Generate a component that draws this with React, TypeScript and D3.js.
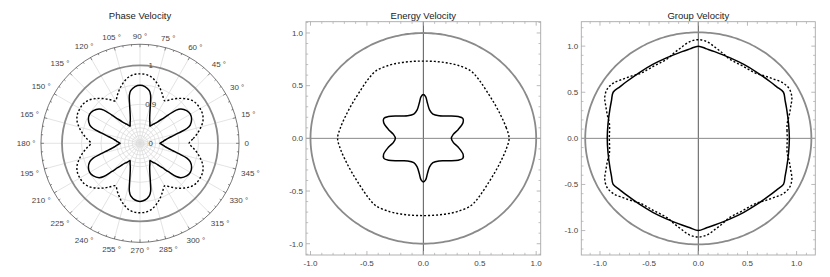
import React from 'react';
import * as d3 from 'd3';

// ---------------- Data ----------------
// Panel 1: Phase Velocity (polar). Quadrant samples 0..90 deg, mirrored to the full circle.
const phaseSolidAngles = [0, 2.5, 5, 7.5, 10, 12.5, 15, 17.5, 20, 25, 30, 35, 40, 42.5, 45, 47.5, 50, 52.5, 55, 57.5, 60, 62.5, 65, 67.5, 70, 72.5, 75, 77.5, 80, 85, 90];
const phaseSolidValues = [0.851, 0.855, 0.860, 0.865, 0.873, 0.885, 0.903, 0.926, 0.937, 0.946, 0.949, 0.946, 0.937, 0.926, 0.903, 0.885, 0.873, 0.865, 0.860, 0.855, 0.851, 0.855, 0.860, 0.865, 0.873, 0.885, 0.903, 0.926, 0.937, 0.946, 0.949];
const phaseDashedAngles = [0, 5, 10, 15, 20, 25, 30, 35, 40, 45, 50, 55, 60, 65, 70, 75, 80, 85, 90];
const phaseDashedValues = [0.926, 0.937, 0.950, 0.962, 0.972, 0.977, 0.978, 0.977, 0.972, 0.962, 0.950, 0.937, 0.926, 0.937, 0.950, 0.962, 0.972, 0.977, 0.978];
const phaseRefValue = 1.0;
const phaseRadialDomain = [0.8, 1.0];
const phaseOuterValue = 1.054;
const phaseRadialTicks = [0.8, 0.9, 1.0];
const phaseRadialLabels = ['0', '0.9', '1'];
const phaseGridRings = [0.81, 0.82, 0.83, 0.84, 0.85, 0.86, 0.9, 0.95];
const phaseAngleTicks = [0, 15, 30, 45, 60, 75, 90, 105, 120, 135, 150, 165, 180, 195, 210, 225, 240, 255, 270, 285, 300, 315, 330, 345];
const phaseAngleLabels = ['0', '15 °', '30 °', '45 °', '60 °', '75 °', '90 °', '105 °', '120 °', '135 °', '150 °', '165 °', '180 °', '195 °', '210 °', '225 °', '240 °', '255 °', '270 °', '285 °', '300 °', '315 °', '330 °', '345 °'];

// Panel 2: Energy Velocity. Quadrant points (x, y), mirrored about both axes.
const energySolidX = [0.248, 0.265, 0.31, 0.352, 0.35, 0.31, 0.23, 0.14, 0.085, 0.055, 0.036, 0.02, 0];
const energySolidY = [0, 0.038, 0.085, 0.15, 0.19, 0.207, 0.213, 0.214, 0.23, 0.27, 0.335, 0.395, 0.415];
const energyDashedX = [0.76, 0.735, 0.69, 0.63, 0.56, 0.49, 0.42, 0.3, 0.2, 0.1, 0];
const energyDashedY = [0, 0.1, 0.21, 0.33, 0.45, 0.56, 0.64, 0.695, 0.718, 0.73, 0.733];
const energyRefRadius = 1.0;
const energyXDomain = [-1.04, 1.04];
const energyYDomain = [-1.107, 1.107];

// Panel 3: Group Velocity. Quadrant samples in polar form (deg, r).
const groupSolidAngles = [0, 10, 20, 25, 30, 35, 40, 50, 60, 70, 80, 85, 90];
const groupSolidValues = [0.926, 0.932, 0.955, 0.974, 1.0, 0.974, 0.955, 0.932, 0.926, 0.932, 0.955, 0.974, 1.0];
const groupDashedAngles = [0, 5, 10, 15, 20, 25, 30, 35, 40, 45, 50, 55, 60, 65, 70, 75, 80, 85, 90];
const groupDashedValues = [0.905, 0.906, 0.918, 0.957, 1.0, 1.05, 1.07, 1.05, 1.0, 0.957, 0.918, 0.906, 0.905, 0.906, 0.918, 0.957, 1.0, 1.05, 1.07];
const groupRefRadius = 1.15;
const groupXDomain = [-1.19, 1.19];
const groupYDomain = [-1.265, 1.265];

const cartMajorTicks = [-1, -0.5, 0, 0.5, 1];
const cartMajorLabels = ['-1.0', '-0.5', '0.0', '0.5', '1.0'];

// ---------------- Helpers ----------------
type PP = { a: number; r: number };
const FONT = "'Liberation Sans', Arial, Helvetica, sans-serif";

function mirrorPolar(anglesDeg: number[], values: number[]): PP[] {
  const m = new Map<string, PP>();
  anglesDeg.forEach((deg, i) => {
    const r = values[i];
    [deg, 180 - deg, 180 + deg, 360 - deg].forEach((d) => {
      const dd = ((d % 360) + 360) % 360;
      m.set(dd.toFixed(3), { a: dd, r });
    });
  });
  return Array.from(m.values()).sort((p, q) => p.a - q.a);
}

function mirrorCart(xs: number[], ys: number[]): PP[] {
  const angles = xs.map((x, i) => (Math.atan2(ys[i], x) * 180) / Math.PI);
  const rs = xs.map((x, i) => Math.hypot(x, ys[i]));
  return mirrorPolar(angles, rs);
}

function minorTicks(domain: number[]): number[] {
  const out: number[] = [];
  for (let k = Math.ceil(domain[0] * 10 - 1e-9); k <= Math.floor(domain[1] * 10 + 1e-9); k++) {
    if (k % 5 !== 0) out.push(k / 10);
  }
  return out;
}

// ---------------- Panels ----------------
function PhasePanel() {
  const cx = 140, cy = 143.3;
  const r = d3.scaleLinear().domain(phaseRadialDomain).range([0, 78]);
  const R = r(phaseOuterValue);
  const line = d3
    .lineRadial<PP>()
    .angle((d) => Math.PI / 2 - (d.a * Math.PI) / 180)
    .radius((d) => r(d.r))
    .curve(d3.curveCatmullRomClosed.alpha(0.5));
  const solid = mirrorPolar(phaseSolidAngles, phaseSolidValues);
  const dashed = mirrorPolar(phaseDashedAngles, phaseDashedValues);
  const outerTicks = d3.range(0, 360, 5);
  const grid = '#dcdcdc';
  return (
    <g>
      <text x={cx} y={19} textAnchor="middle" fontSize={9.5} fill="#222" fontFamily={FONT}>Phase Velocity</text>
      <g transform={`translate(${cx},${cy})`}>
        {phaseAngleTicks.map((deg) => {
          const t = (deg * Math.PI) / 180;
          return <line key={'s' + deg} x1={0} y1={0} x2={R * Math.cos(t)} y2={-R * Math.sin(t)} stroke={grid} strokeWidth={0.8} />;
        })}
        {phaseGridRings.map((v) => (
          <circle key={'g' + v} r={r(v)} fill="none" stroke={grid} strokeWidth={0.8} />
        ))}
        <circle r={R} fill="none" stroke="#555" strokeWidth={0.8} />
        {outerTicks.map((deg) => {
          const t = (deg * Math.PI) / 180;
          const len = deg % 15 === 0 ? 3 : 1.8;
          return (
            <line key={'t' + deg} x1={R * Math.cos(t)} y1={-R * Math.sin(t)} x2={(R - len) * Math.cos(t)} y2={-(R - len) * Math.sin(t)} stroke="#555" strokeWidth={0.7} />
          );
        })}
        <circle r={r(phaseRefValue)} fill="none" stroke="#8a8a8a" strokeWidth={1.8} />
        <path d={line(dashed) || ''} fill="none" stroke="#000" strokeWidth={1.4} strokeDasharray="2,2" />
        <path d={line(solid) || ''} fill="none" stroke="#000" strokeWidth={1.5} />
        {phaseRadialTicks.map((v, i) => (
          <text key={'rl' + i} x={10.7} y={-r(v)} dy="0.35em" textAnchor="middle" fontSize={8} fill="#444" fontFamily={FONT}>{phaseRadialLabels[i]}</text>
        ))}
        {phaseAngleTicks.map((deg, i) => {
          const t = (deg * Math.PI) / 180;
          const lab = phaseAngleLabels[i];
          const digits = lab.replace(/[^0-9]/g, '').length;
          const w = digits * 4.45 + (lab.includes('°') ? 5.4 : 0);
          const h = 5.8;
          const c = Math.cos(t), s = Math.sin(t);
          const r0 = 104.5 + Math.abs(c) * w / 2 + Math.abs(s) * h / 2;
          return (
            <text key={'al' + deg} x={r0 * c} y={-r0 * s} dy="0.35em" textAnchor="middle" fontSize={8} fill="#444" fontFamily={FONT}>{lab}</text>
          );
        })}
      </g>
    </g>
  );
}

function CartPanel(props: {
  title: string;
  xDomain: number[];
  yDomain: number[];
  xRange: number[];
  yRange: number[];
  refRadius: number;
  solid: PP[];
  dashed: PP[];
}) {
  const { title, xDomain, yDomain, xRange, yRange, refRadius, solid, dashed } = props;
  const x = d3.scaleLinear().domain(xDomain).range(xRange);
  const y = d3.scaleLinear().domain(yDomain).range(yRange);
  const line = d3
    .line<PP>()
    .x((d) => x(d.r * Math.cos((d.a * Math.PI) / 180)))
    .y((d) => y(d.r * Math.sin((d.a * Math.PI) / 180)))
    .curve(d3.curveCatmullRomClosed.alpha(0.5));
  const circ = d3.range(0, 361, 2).map((a) => ({ a, r: refRadius }));
  const x0 = xRange[0], x1 = xRange[1], yTop = yRange[1], yBot = yRange[0];
  const frame = '#a8a8a8';
  const xMinor = minorTicks(xDomain);
  const yMinor = minorTicks(yDomain);
  const major = 4, minor = 2.2;
  return (
    <g>
      <text x={x(0)} y={19} textAnchor="middle" fontSize={9.5} fill="#222" fontFamily={FONT}>{title}</text>
      <line x1={x(0)} x2={x(0)} y1={yTop} y2={yBot} stroke="#444" strokeWidth={0.9} />
      <line x1={x0} x2={x1} y1={y(0)} y2={y(0)} stroke="#888" strokeWidth={1} />
      <path d={line(circ) || ''} fill="none" stroke="#8a8a8a" strokeWidth={1.8} />
      <path d={line(dashed) || ''} fill="none" stroke="#000" strokeWidth={1.4} strokeDasharray="2,2" />
      <path d={line(solid) || ''} fill="none" stroke="#000" strokeWidth={1.5} />
      <rect x={x0} y={yTop} width={x1 - x0} height={yBot - yTop} fill="none" stroke={frame} strokeWidth={0.9} />
      {cartMajorTicks.map((v, i) => (
        <g key={'mx' + i}>
          <line x1={x(v)} x2={x(v)} y1={yBot} y2={yBot - major} stroke={frame} strokeWidth={0.8} />
          <line x1={x(v)} x2={x(v)} y1={yTop} y2={yTop + major} stroke={frame} strokeWidth={0.8} />
          <line x1={x0} x2={x0 + major} y1={y(v)} y2={y(v)} stroke={frame} strokeWidth={0.8} />
          <line x1={x1} x2={x1 - major} y1={y(v)} y2={y(v)} stroke={frame} strokeWidth={0.8} />
          <text x={x(v)} y={265.5} textAnchor="middle" fontSize={8} fill="#444" fontFamily={FONT}>{cartMajorLabels[i]}</text>
          <text x={x0 - 3} y={y(v)} dy="0.35em" textAnchor="end" fontSize={8} fill="#444" fontFamily={FONT}>{cartMajorLabels[i]}</text>
        </g>
      ))}
      {xMinor.map((v) => (
        <g key={'nx' + v}>
          <line x1={x(v)} x2={x(v)} y1={yBot} y2={yBot - minor} stroke={frame} strokeWidth={0.7} />
          <line x1={x(v)} x2={x(v)} y1={yTop} y2={yTop + minor} stroke={frame} strokeWidth={0.7} />
        </g>
      ))}
      {yMinor.map((v) => (
        <g key={'ny' + v}>
          <line x1={x0} x2={x0 + minor} y1={y(v)} y2={y(v)} stroke={frame} strokeWidth={0.7} />
          <line x1={x1} x2={x1 - minor} y1={y(v)} y2={y(v)} stroke={frame} strokeWidth={0.7} />
        </g>
      ))}
    </g>
  );
}

export default function App() {
  const eSolid = mirrorCart(energySolidX, energySolidY);
  const eDashed = mirrorCart(energyDashedX, energyDashedY);
  const gSolid = mirrorPolar(groupSolidAngles, groupSolidValues);
  const gDashed = mirrorPolar(groupDashedAngles, groupDashedValues);
  return (
    <svg width={830} height={277} style={{ position: 'absolute', left: 0, top: 0, background: '#fff' }}>
      <rect x={0} y={0} width={830} height={277} fill="#fff" />
      <PhasePanel />
      <CartPanel title="Energy Velocity" xDomain={energyXDomain} yDomain={energyYDomain} xRange={[306, 540.7]} yRange={[255, 21.7]} refRadius={energyRefRadius} solid={eSolid} dashed={eDashed} />
      <CartPanel title="Group Velocity" xDomain={groupXDomain} yDomain={groupYDomain} xRange={[581.3, 815.3]} yRange={[255, 21.7]} refRadius={groupRefRadius} solid={gSolid} dashed={gDashed} />
    </svg>
  );
}
